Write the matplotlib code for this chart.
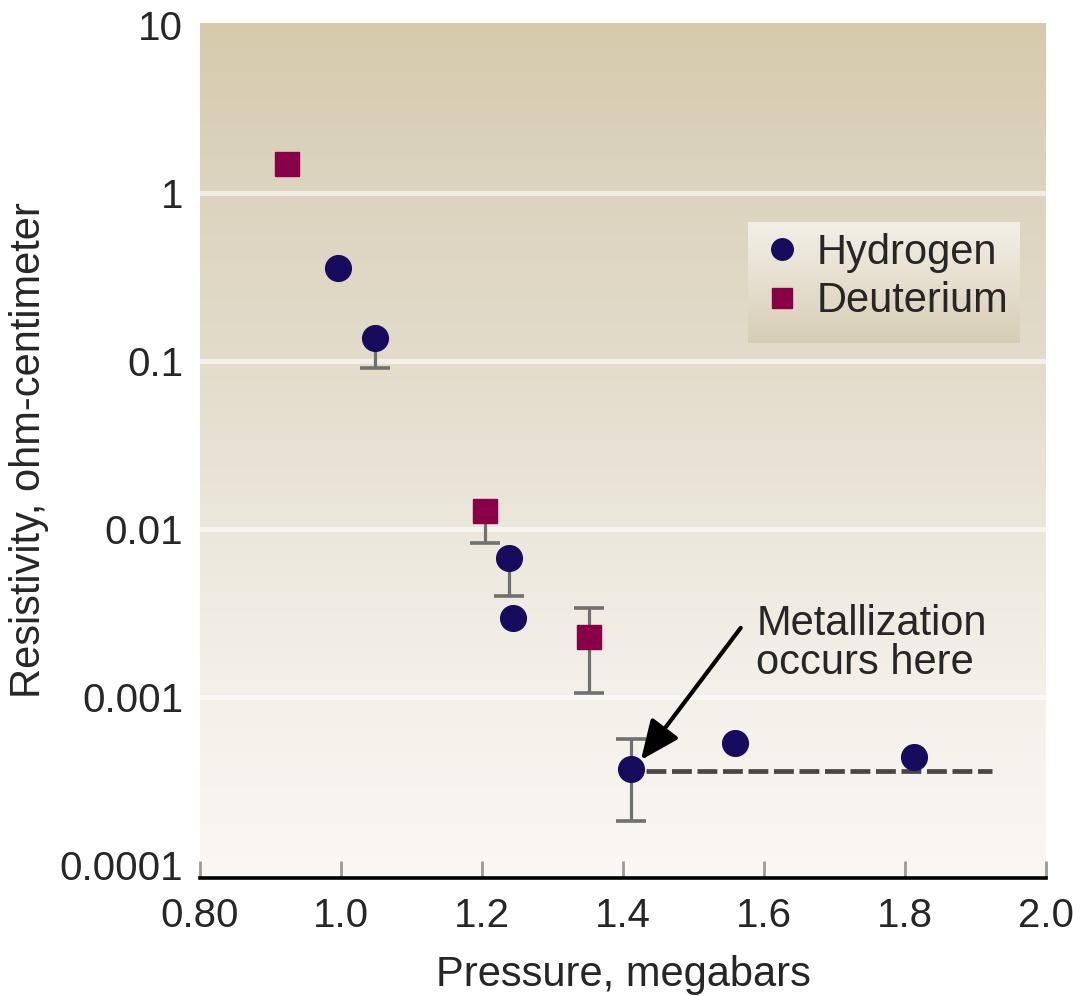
import numpy as np
import matplotlib
matplotlib.use("Agg")
import matplotlib.pyplot as plt
from matplotlib.colors import LinearSegmentedColormap
from matplotlib.lines import Line2D
from matplotlib.ticker import NullLocator

plt.rcParams['font.family'] = ['Liberation Sans', 'DejaVu Sans']

# ---------------- data ----------------
hydrogen_p = [0.996, 1.048, 1.238, 1.244, 1.411, 1.559, 1.813]
hydrogen_r = [0.358, 0.137, 0.0067, 0.00295, 0.000373, 0.000532, 0.00044]
hydrogen_lo = [np.nan, 0.091, 0.0040, np.nan, 0.000183, np.nan, np.nan]
hydrogen_hi = [np.nan, np.nan, np.nan, np.nan, 0.000562, np.nan, np.nan]

deuterium_p = [0.923, 1.204, 1.352]
deuterium_r = [1.49, 0.0128, 0.00228]
deuterium_lo = [np.nan, 0.00826, 0.00106]
deuterium_hi = [np.nan, np.nan, 0.00339]

metal_line_p = [1.433, 1.923]
metal_level = 0.000363

x_ticks = [0.8, 1.0, 1.2, 1.4, 1.6, 1.8, 2.0]
x_labels = ['0.80', '1.0', '1.2', '1.4', '1.6', '1.8', '2.0']
y_ticks = [1e-4, 1e-3, 1e-2, 1e-1, 1, 10]
y_labels = ['0.0001', '0.001', '0.01', '0.1', '1', '10']
grid_values = [1e-3, 1e-2, 1e-1, 1]

H_COLOR = '#170b5e'
D_COLOR = '#8a0048'
ERR_COLOR = '#707070'
TXT = '#262626'

fig = plt.figure(figsize=(10.73, 9.96), dpi=100)
pos = [0.1864, 0.1185, 0.7884, 0.8584]

# background gradient axes
bg = fig.add_axes(pos, zorder=0)
bg_cmap = LinearSegmentedColormap.from_list('bg', [
    (0.0, '#faf7f4'),
    (0.21, '#f4f1ea'),
    (0.41, '#ece7dc'),
    (0.60, '#e3dccb'),
    (0.80, '#dcd4bf'),
    (1.0, '#d5cbac'),
])
grad = np.linspace(0, 1, 256).reshape(-1, 1)
bg.imshow(grad, extent=(0, 1, 0, 1), origin='lower', aspect='auto', cmap=bg_cmap)
bg.set_xlim(0, 1); bg.set_ylim(0, 1)
bg.axis('off')

ax = fig.add_axes(pos, zorder=1)
ax.set_facecolor('none')
ax.set_yscale('log')
ax.set_xlim(0.8, 2.0)
ax.set_ylim(10 ** -4.077, 10 ** 1.012)

for g in grid_values:
    ax.axhline(g, color='white', alpha=0.6, lw=3.6, zorder=0.5)

# error bars (drawn from data)
def draw_err(px, pr, lo, hi):
    for x, r, l, h in zip(px, pr, lo, hi):
        bottom = l if not np.isnan(l) else r
        top = h if not np.isnan(h) else r
        if bottom != top:
            ax.vlines(x, bottom, top, color=ERR_COLOR, lw=2.3, zorder=2)
        for v in (l, h):
            if not np.isnan(v):
                ax.plot([x], [v], marker='_', ms=22, mew=2.6, color=ERR_COLOR, zorder=2)

draw_err(hydrogen_p, hydrogen_r, hydrogen_lo, hydrogen_hi)
draw_err(deuterium_p, deuterium_r, deuterium_lo, deuterium_hi)

ax.plot(metal_line_p, [metal_level, metal_level], color='#464646', lw=3.4,
        ls=(0, (4.2, 1.2)), solid_capstyle='butt', dash_capstyle='butt', zorder=2.5)

ax.plot(hydrogen_p, hydrogen_r, 'o', ms=18.5, color=H_COLOR, mec=H_COLOR, zorder=3)
ax.plot(deuterium_p, deuterium_r, 's', ms=17, color=D_COLOR, mec=D_COLOR, zorder=3)

# annotation
ax.annotate('', xy=(1.4255, 0.000422), xytext=(1.567, 0.00258),
            arrowprops=dict(arrowstyle='-|>,head_length=0.8,head_width=0.35',
                            mutation_scale=30, lw=3, color='black',
                            shrinkA=0, shrinkB=0), zorder=4)
ax.text(1.589, 0.0036, 'Metallization\noccurs here', fontsize=30, color=TXT,
        ha='left', va='top', linespacing=0.98, zorder=4)

# ticks
ax.set_yticks(y_ticks)
ax.set_yticklabels(y_labels)
ax.yaxis.set_minor_locator(NullLocator())
ax.set_xticks(x_ticks)
ax.set_xticklabels(x_labels)
ax.tick_params(axis='y', length=0, pad=12, labelsize=29, labelcolor=TXT)
ax.tick_params(axis='x', direction='in', length=12.5, width=2, color='#9a9a9a',
               pad=14, labelsize=29, labelcolor=TXT)

for s in ('left', 'right', 'top'):
    ax.spines[s].set_visible(False)
ax.spines['bottom'].set_linewidth(2.6)
ax.spines['bottom'].set_color('black')
ax.spines['bottom'].set_zorder(5)

ax.set_xlabel('Pressure, megabars', fontsize=30, color=TXT, labelpad=14)
ax.set_ylabel('Resistivity, ohm-centimeter', fontsize=30, color=TXT)
ax.yaxis.set_label_coords(-0.178, 0.5)

# legend box with gradient
leg_box = fig.add_axes([748 / 1073, 1 - 343 / 996, (1020 - 748) / 1073, (343 - 222) / 996], zorder=2)
leg_cmap = LinearSegmentedColormap.from_list('leg', ['#d6cdb4', '#e6dfcf', '#f3efe6'])
leg_box.imshow(grad, extent=(0, 1, 0, 1), origin='lower', aspect='auto', cmap=leg_cmap)
leg_box.set_xlim(0, 1); leg_box.set_ylim(0, 1)
leg_box.axis('off')

handles = [
    Line2D([], [], marker='o', ls='none', ms=15.5, color=H_COLOR, mec=H_COLOR),
    Line2D([], [], marker='s', ls='none', ms=15, color=D_COLOR, mec=D_COLOR),
]
leg = fig.legend(handles, ['Hydrogen', 'Deuterium'], loc='upper left',
                 bbox_to_anchor=(761.5 / 1073, 1 - 233 / 996), frameon=False,
                 fontsize=30, borderpad=0, borderaxespad=0, handlelength=1.0,
                 handletextpad=0.32, labelspacing=0.2, labelcolor=TXT)
leg.set_zorder(6)

fig.savefig('out.png', dpi=100, facecolor='white')
